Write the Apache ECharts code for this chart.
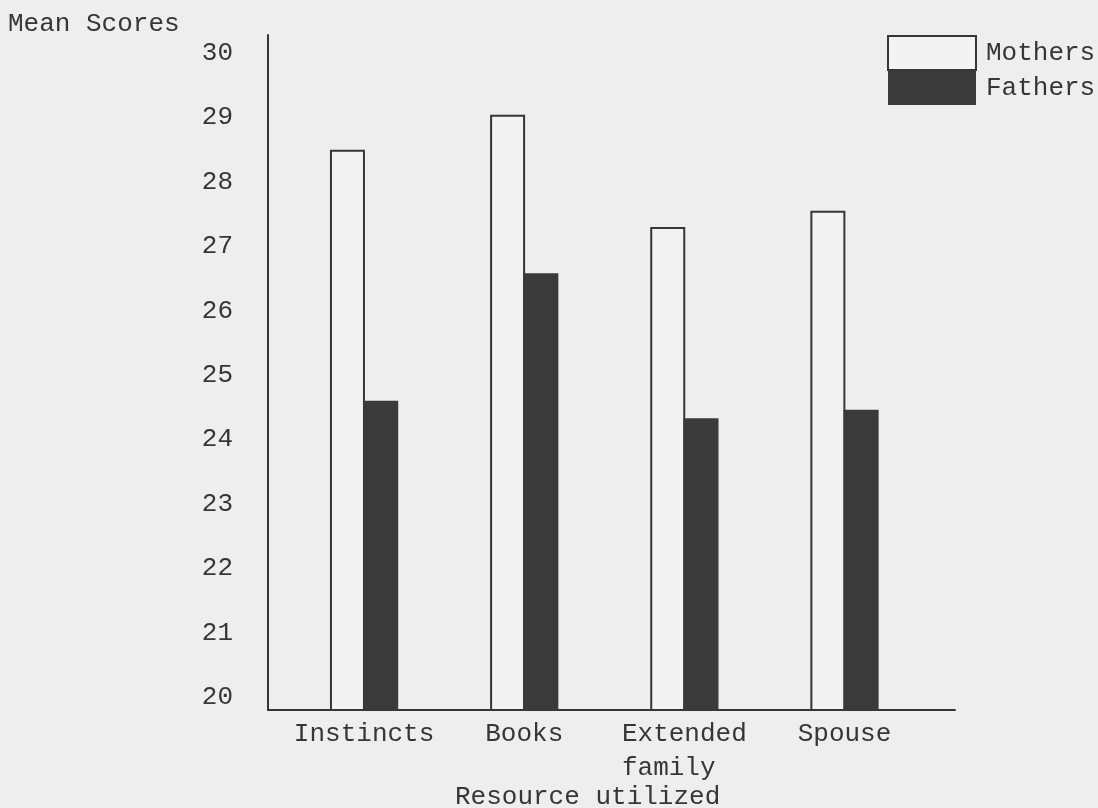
<!DOCTYPE html>
<html>
<head>
<meta charset="utf-8">
<script src="https://cdn.jsdelivr.net/npm/echarts@6/dist/echarts.min.js"></script>
<style>
html,body{margin:0;padding:0;background:#eeeeee;}
#chart{width:1098px;height:808px;}
</style>
</head>
<body>
<div id="chart"></div>
<script>
const categories = ['Instincts', 'Books', 'Extended\nfamily  ', 'Spouse'];
const mothers = [28.5, 29.04, 27.3, 27.55];
const fathers = [24.6, 26.58, 24.33, 24.46];
const yTicks = [20, 21, 22, 23, 24, 25, 26, 27, 28, 29, 30];

const FONT = 'Liberation Mono';
const INK = '#363636';

const chart = echarts.init(document.getElementById('chart'));
chart.setOption({
  backgroundColor: '#eeeeee',
  animation: false,
  title: [
    { text: 'Mean Scores', left: 8, top: 11, padding: 0,
      textStyle: { fontFamily: FONT, fontSize: 26, fontWeight: 'normal', color: INK } },
    { text: 'Resource utilized', left: 455, top: 784, padding: 0,
      textStyle: { fontFamily: FONT, fontSize: 26, fontWeight: 'normal', color: INK } }
  ],
  legend: {
    orient: 'vertical', left: 887, top: 35, padding: 0,
    itemWidth: 88, itemHeight: 34, itemGap: 0,
    icon: 'rect',
    textStyle: { fontFamily: FONT, fontSize: 26, color: INK, padding: [4, 0, 0, 5] },
    data: ['Mothers', 'Fathers']
  },
  grid: { left: 268, right: 143, top: 35, bottom: 98 },
  xAxis: {
    type: 'value', min: -0.6, max: 3.69,
    splitLine: { show: false },
    axisTick: { show: false },
    axisLine: { show: true, onZero: false, lineStyle: { color: INK, width: 2 } },
    axisLabel: {
      customValues: [0, 1, 2, 3],
      formatter: v => categories[Math.round(v)],
      fontFamily: FONT, fontSize: 26, color: INK, margin: 7, lineHeight: 34
    }
  },
  yAxis: {
    type: 'value', min: 19.8, max: 30.28,
    splitLine: { show: false },
    axisTick: { show: false },
    axisLine: { show: true, onZero: false, lineStyle: { color: INK, width: 2 } },
    axisLabel: {
      customValues: yTicks,
      fontFamily: FONT, fontSize: 26, color: INK, margin: 35
    }
  },
  series: [
    { name: 'Mothers', type: 'bar', barWidth: 35, barGap: '-5%',
      data: mothers.map((v, i) => [i, v]),
      itemStyle: { color: '#f3f3f3', borderColor: INK, borderWidth: 2 } },
    { name: 'Fathers', type: 'bar', barWidth: 35, barGap: '-5%',
      data: fathers.map((v, i) => [i, v]),
      itemStyle: { color: '#3a3a3a', borderColor: '#3a3a3a', borderWidth: 0 } }
  ]
});
</script>
</body>
</html>
